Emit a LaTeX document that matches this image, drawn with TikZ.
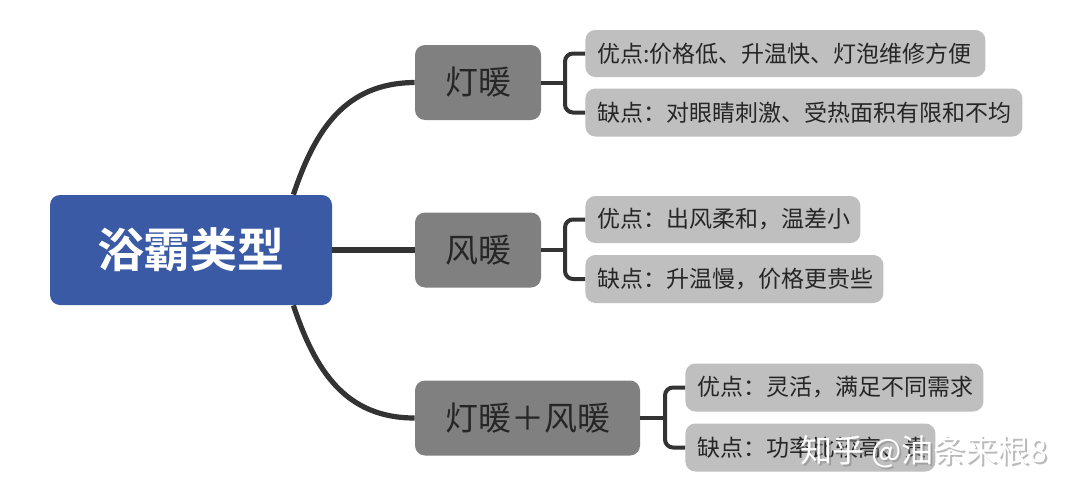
\documentclass[tikz,border=0pt]{standalone}
\usepackage{fontspec}
\newfontfamily\cjk{Noto Sans CJK SC}[BoldFont={Noto Sans CJK SC Bold}]
\definecolor{rootblue}{HTML}{3A5AA6}
\definecolor{midgray}{HTML}{808080}
\definecolor{leafgray}{HTML}{BFBFBF}
\definecolor{ink}{HTML}{262626}
\definecolor{linec}{HTML}{333333}
\tikzset{
  rootbox/.style={fill=rootblue, rounded corners=5pt, text=white, minimum width=141pt, minimum height=55pt, inner sep=0pt, font=\cjk\bfseries\fontsize{23.5pt}{27pt}\selectfont},
  midbox/.style={fill=midgray, rounded corners=5pt, text=ink, minimum height=37.5pt, inner sep=0pt, font=\cjk\fontsize{16.5pt}{19pt}\selectfont},
  leafbox/.style={fill=leafgray, rounded corners=5pt, text=ink, minimum height=24pt, inner xsep=6pt, inner ysep=0pt, anchor=west, font=\cjk\fontsize{11.5pt}{13pt}\selectfont},
  trunk/.style={draw=linec, line width=2.6pt},
  bracket/.style={draw=linec, line width=2pt, rounded corners=4pt},
  wmark/.style={font=\cjk\fontsize{16pt}{19pt}\selectfont, inner sep=0pt}
}
\begin{document}
\begin{tikzpicture}[x=0.5pt,y=-0.5pt]
\useasboundingbox (0,0) rectangle (1077,498);
\fill[white] (0,0) rectangle (1077,498);
% nodes
\node[rootbox] (root) at (191,250) {浴霸类型};
\node[midbox, minimum width=63pt] (m1) at (478,82.5) {灯暖};
\node[midbox, minimum width=63pt] (m2) at (478,250) {风暖};
\node[midbox, minimum width=112.5pt] (m3) at (527.5,418) {灯暖＋风暖};
\node[leafbox, minimum height=23.5pt] (l1a) at (585,53.5) {\makebox[188pt][l]{优点:价格低、升温快、灯泡维修方便}};
\node[leafbox] (l1b) at (585,112.5) {\makebox[206.5pt][l]{缺点：对眼睛刺激、受热面积有限和不均}};
\node[leafbox, minimum height=23.5pt] (l2a) at (585,219.5) {\makebox[125.5pt][l]{优点：出风柔和，温差小}};
\node[leafbox] (l2b) at (585,279) {\makebox[137pt][l]{缺点：升温慢，价格更贵些}};
\node[leafbox] (l3a) at (685,387.5) {\makebox[137pt][l]{优点：灵活，满足不同需求}};
\node[leafbox] (l3b) at (685,447.5) {\makebox[113pt][l]{缺点：功率比较高、贵}};
% junction coordinates
\coordinate (j1) at (565,82.5);
\coordinate (j2) at (565,250);
\coordinate (j3) at (665,418);
% trunk connectors
\draw[trunk] ([xshift=-19.5pt]root.north east) .. controls (315,130) and (345,83) .. (m1.west);
\draw[trunk] (root.east) -- (m2.west);
\draw[trunk] ([xshift=-19.5pt]root.south east) .. controls (315,370) and (345,418) .. (m3.west);
% brackets
\draw[bracket] (m1.east) -- (j1);
\draw[bracket] (l1a.west) -| (j1) |- (l1b.west);
\draw[bracket] (m2.east) -- (j2);
\draw[bracket] (l2a.west) -| (j2) |- (l2b.west);
\draw[bracket] (m3.east) -- (j3);
\draw[bracket] (l3a.west) -| (j3) |- (l3b.west);
% watermark
\node[wmark, text=black!45, opacity=0.6] (wms) at (926,454) {知乎 @油条来根8};
\node[wmark, text=white] (wm) at (924,452) {知乎 @油条来根8};
\end{tikzpicture}
\end{document}
